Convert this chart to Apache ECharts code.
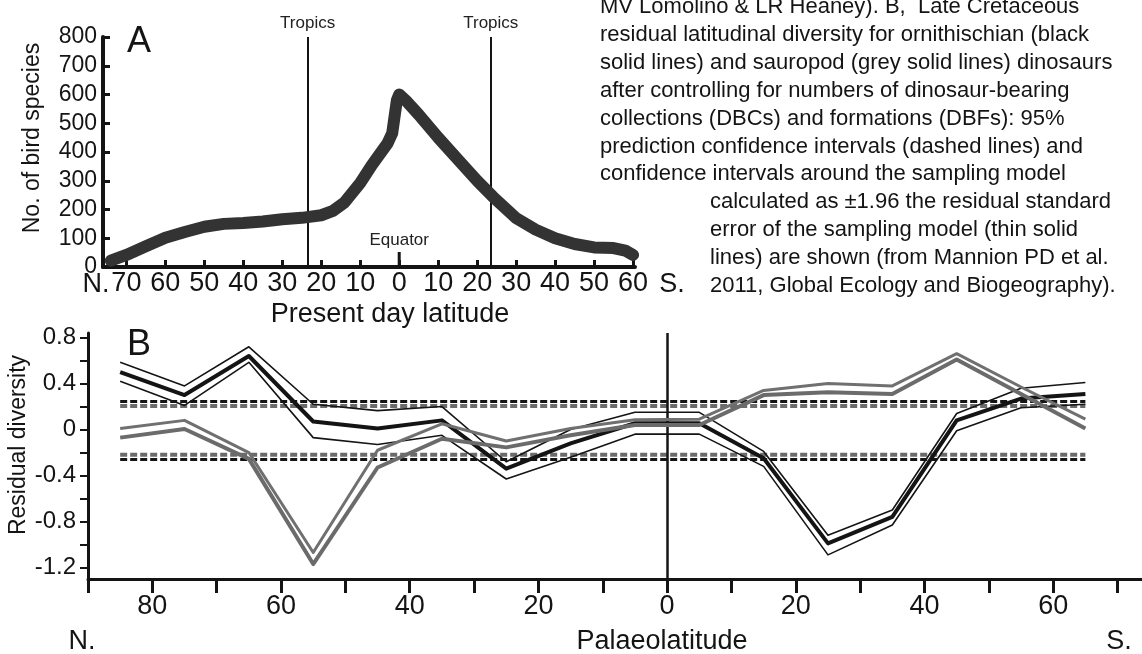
<!DOCTYPE html>
<html><head><meta charset="utf-8">
<script src="https://cdn.jsdelivr.net/npm/echarts@6/dist/echarts.min.js"></script>
<style>html,body{margin:0;padding:0;background:#fff}#c{width:1142px;height:654px}</style>
</head><body><div id="c"></div>
<script>
// ---- Panel A: present-day latitude (N negative, S positive) ----
const latA  = [-74,-70,-65,-60,-55,-50,-45,-40,-35,-30,-25,-20,-17,-14,-10,-7,-3,-1.8,-0.6,0,2,5,10,15,20,24,30,35,40,45,50,55,58,60];
const birds = [22,42,72,102,122,140,150,153,158,166,171,180,195,225,292,355,430,465,580,600,575,530,450,375,300,245,170,130,100,80,68,66,57,42];
const xTicksA = [-70,-60,-50,-40,-30,-20,-10,0,10,20,30,40,50,60];
const yTicksA = [0,100,200,300,400,500,600,700,800];
const tropics = [-23.5, 23.5];

// ---- Panel B: palaeolatitude bins (N negative, S positive) ----
const latB     = [-85,-75,-65,-55,-45,-35,-25,-15,-5,5,15,25,35,45,55,65];
const ornResid = [0.50,0.30,0.64,0.07,0.01,0.08,-0.34,-0.12,0.055,0.055,-0.25,-0.99,-0.76,0.08,0.27,0.31];
const ornUpper = [0.585,0.38,0.72,0.22,0.165,0.20,-0.28,0.00,0.15,0.15,-0.19,-0.92,-0.70,0.14,0.36,0.41];
const ornLower = [0.42,0.21,0.585,-0.07,-0.13,-0.05,-0.43,-0.24,-0.04,-0.04,-0.32,-1.09,-0.83,-0.01,0.19,0.22];
const sauUpper = [0.01,0.08,-0.20,-1.07,-0.18,0.05,-0.10,0.01,0.085,0.09,0.34,0.40,0.38,0.66,0.37,0.09];
const sauLower = [-0.07,0.005,-0.255,-1.17,-0.33,-0.08,-0.155,-0.05,0.04,0.04,0.30,0.325,0.31,0.61,0.31,0.01];
const predUpperBlack = 0.245, predUpperGrey = 0.205, predLowerGrey = -0.22, predLowerBlack = -0.26;
const xTicksB  = [-90,-80,-70,-60,-50,-40,-30,-20,-10,0,10,20,30,40,50,60,70];
const xLabelsB = [-80,-60,-40,-20,0,20,40,60];
const yTicksB  = [-1.2,-1.0,-0.8,-0.6,-0.4,-0.2,0,0.2,0.4,0.6,0.8];
const yLabelsB = [-1.2,-0.8,-0.4,0,0.4,0.8];

const caption = [
  "MV Lomolino & LR Heaney). B,  Late Cretaceous",
  "residual latitudinal diversity for ornithischian (black",
  "solid lines) and sauropod (grey solid lines) dinosaurs",
  "after controlling for numbers of dinosaur-bearing",
  "collections (DBCs) and formations (DBFs): 95%",
  "prediction confidence intervals (dashed lines) and",
  "confidence intervals around the sampling model",
  "calculated as \u00b11.96 the residual standard",
  "error of the sampling model (thin solid",
  "lines) are shown (from Mannion PD et al.",
  "2011, Global Ecology and Biogeography)."
];

const FF = '"Liberation Sans", Arial, Helvetica, sans-serif';
const INK = '#141414', GREY = '#6b6b6b';
const pairs = (xs, ys) => xs.map((x, i) => [x, ys[i]]);
const hline = (v) => [[latB[0], v], [latB[latB.length - 1], v]];

function txt(x, y, s, size, align, rot) {
  return { type: 'text', x: x, y: y, rotation: rot || 0, silent: true,
    style: { text: s, font: size + 'px ' + FF, fill: INK,
      align: align || 'center', verticalAlign: 'middle',
      textAlign: align || 'center', textVerticalAlign: 'middle' } };
}

const graphics = [
  txt(139, 42, 'A', 36), txt(139, 345, 'B', 36),
  txt(33, 138, 'No. of bird species', 23, 'center', Math.PI / 2),
  txt(19, 445, 'Residual diversity', 23, 'center', Math.PI / 2),
  txt(96, 285, 'N.', 27), txt(672, 285, 'S.', 27),
  txt(390, 315, 'Present day latitude', 27),
  txt(82, 642, 'N.', 27), txt(1119, 642, 'S.', 27),
  txt(662, 642, 'Palaeolatitude', 27)
];
caption.forEach((s, i) => {
  graphics.push(txt(i < 7 ? 600 : 710, 7 + i * 27.9, s, 22, 'left'));
});

const thin = (name, d, w, c, z) => ({ name, type: 'line', xAxisIndex: 1, yAxisIndex: 1, data: d,
  showSymbol: false, symbol: 'none', z: z, lineStyle: { width: w, color: c, join: 'round' } });
const dash = (v, c, w, z) => ({ type: 'line', xAxisIndex: 1, yAxisIndex: 1, data: hline(v), symbol: 'none', z: z,
  lineStyle: { width: w, color: c, type: [7, 3] } });

const option = {
  animation: false,
  backgroundColor: '#fff',
  textStyle: { fontFamily: FF },
  graphic: graphics,
  grid: [
    { left: 103, top: 37, width: 532, height: 230 },
    { left: 88, top: 333, width: 1054, height: 246 }
  ],
  xAxis: [
    { gridIndex: 0, type: 'value', min: -76, max: 60.5,
      axisLine: { onZero: false, lineStyle: { color: INK, width: 4 } },
      axisTick: { inside: true, length: 7, customValues: xTicksA, lineStyle: { color: INK, width: 3 } },
      axisLabel: { customValues: xTicksA, formatter: v => String(Math.abs(v)), fontSize: 27, color: INK, margin: 3, fontFamily: FF },
      splitLine: { show: false } },
    { gridIndex: 1, type: 'value', min: -90, max: 73.8,
      axisLine: { onZero: false, lineStyle: { color: INK, width: 3 } },
      axisTick: { length: 14, customValues: xTicksB, lineStyle: { color: INK, width: 3 } },
      axisLabel: { customValues: xLabelsB, formatter: v => String(Math.abs(v)), fontSize: 27, color: INK, margin: 14, fontFamily: FF },
      splitLine: { show: false } }
  ],
  yAxis: [
    { gridIndex: 0, type: 'value', min: 0, max: 800,
      axisLine: { show: true, onZero: false, lineStyle: { color: INK, width: 4 } },
      axisTick: { show: true, inside: true, length: 7, customValues: yTicksA, lineStyle: { color: INK, width: 3 } },
      axisLabel: { customValues: yTicksA, fontSize: 23, color: INK, margin: 6, fontFamily: FF },
      splitLine: { show: false } },
    { gridIndex: 1, type: 'value', min: -1.3, max: 0.84,
      axisLine: { show: true, onZero: false, lineStyle: { color: INK, width: 3 } },
      axisTick: { show: true, length: 8, customValues: yTicksB, lineStyle: { color: INK, width: 2 } },
      axisLabel: { customValues: yLabelsB, formatter: v => (v === 0 ? '0' : String(v)), fontSize: 24, color: INK, margin: 12, fontFamily: FF },
      splitLine: { show: false } }
  ],
  series: [
    { name: 'Bird species', type: 'line', xAxisIndex: 0, yAxisIndex: 0, data: pairs(latA, birds),
      symbol: 'none', z: 3, lineStyle: { width: 12, color: '#333', cap: 'round', join: 'round' },
      markLine: { silent: true, symbol: 'none', z: 2,
        lineStyle: { color: INK, width: 2, type: 'solid' },
        label: { show: true, position: 'end', formatter: 'Tropics', fontSize: 17, color: '#222', distance: 5, fontFamily: FF },
        data: tropics.map(t => ({ xAxis: t })) } },
    { name: 'Equator tick', type: 'line', xAxisIndex: 0, yAxisIndex: 0, data: [[0, 0], [0, 52]],
      symbol: 'none', z: 4, lineStyle: { width: 3, color: INK },
      markPoint: { silent: true, symbol: 'circle', symbolSize: 1, itemStyle: { color: 'rgba(0,0,0,0)' },
        label: { show: true, formatter: 'Equator', fontSize: 17, color: '#222', fontFamily: FF, position: 'inside' },
        data: [{ coord: [0, 94] }] } },

    dash(predUpperBlack, INK, 3, 2), dash(predUpperGrey, GREY, 4, 2),
    dash(predLowerGrey, GREY, 4, 2), dash(predLowerBlack, INK, 3, 2),

    Object.assign(thin('Ornithischian upper', pairs(latB, ornUpper), 1.6, INK, 3), {
      markLine: { silent: true, symbol: 'none', label: { show: false },
        lineStyle: { color: INK, width: 2.5, type: 'solid' }, data: [{ xAxis: 0 }] } }),
    thin('Ornithischian lower', pairs(latB, ornLower), 1.6, INK, 3),
    thin('Ornithischian residual', pairs(latB, ornResid), 4, INK, 4),
    thin('Sauropod upper', pairs(latB, sauUpper), 3, '#707070', 5),
    thin('Sauropod lower', pairs(latB, sauLower), 4, GREY, 5)
  ]
};
const chart = echarts.init(document.getElementById('c'));
chart.setOption(option);
</script></body></html>
